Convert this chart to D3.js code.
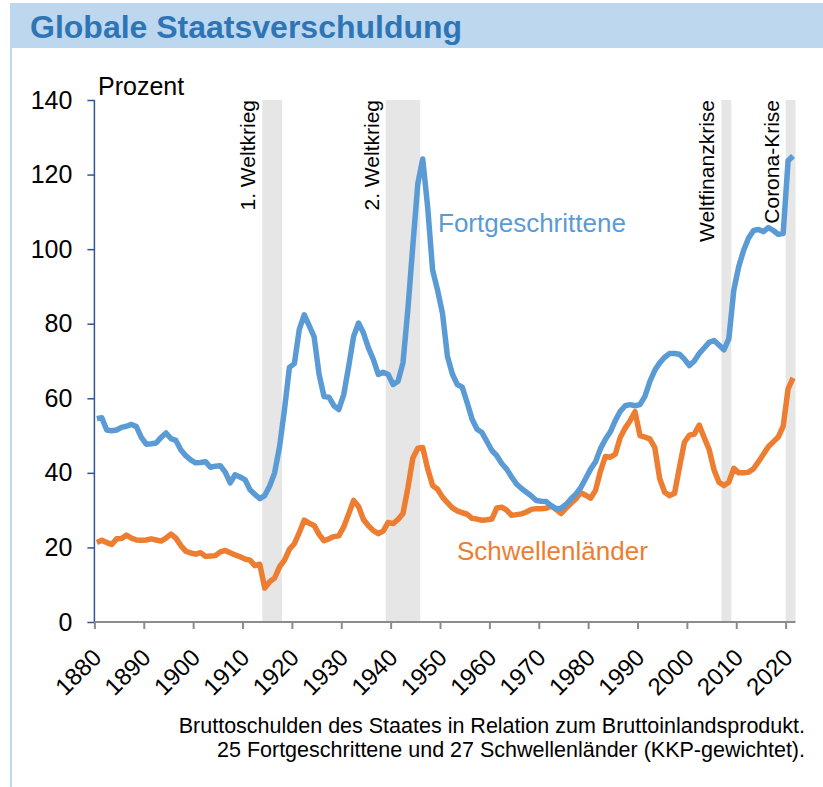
<!DOCTYPE html>
<html>
<head>
<meta charset="utf-8">
<script src="https://cdn.jsdelivr.net/npm/d3@7"></script>
<style>
  body { margin: 0; background: #fff; }
  svg { font-family: "Liberation Sans", Arial, sans-serif; }
</style>
</head>
<body>
<script>
// Jahre 1880 - 2021
var firstYear = 1880;

// Fortgeschrittene, Prozent des BIP
var advanced = [
  54.5, 54.8, 51.5, 51.3, 51.5, 52.2, 52.5, 53.0, 52.4, 49.5,
  47.7, 47.8, 48.0, 49.5, 50.7, 49.2, 48.7, 46.2, 44.6, 43.5,
  42.7, 42.8, 43.0, 41.5, 41.8, 41.9, 40.2, 37.3, 39.5, 38.9,
  38.2, 35.5, 34.2, 33.1, 33.9, 36.5, 40.0, 47.0, 57.0, 68.3,
  69.3, 78.5, 82.4, 79.5, 76.5, 66.5, 60.5, 60.3, 58.0, 57.0,
  61.0, 68.5, 76.6, 80.2, 77.5, 73.5, 70.4, 66.4, 67.0, 66.4,
  63.7, 64.6, 69.5, 84.0, 101.0, 117.5, 124.2, 111.3, 94.4, 89.0,
  82.8, 71.3, 66.5, 63.7, 63.0, 58.8, 54.4, 51.7, 50.8, 48.4,
  46.0, 44.6, 42.5, 41.0, 38.9, 37.0, 35.8, 34.8, 33.8, 32.6,
  32.4, 32.3, 31.2, 30.4, 30.5, 31.5, 33.0, 34.3, 36.0, 38.5,
  41.0, 43.0, 46.5, 49.0, 51.0, 54.0, 56.5, 58.0, 58.3, 58.0,
  58.3, 60.5, 64.5, 67.5, 69.5, 71.0, 72.0, 72.0, 71.8, 70.5,
  68.8, 70.0, 72.0, 73.5, 75.0, 75.5, 74.3, 73.0, 76.0, 89.0,
  95.3, 99.7, 103.0, 105.0, 105.3, 104.7, 105.8, 105.0, 104.0, 104.2,
  123.7, 125.0
];

// Schwellenländer, Prozent des BIP
var emerging = [
  21.3, 21.9, 21.3, 20.8, 22.3, 22.4, 23.3, 22.5, 22.0, 21.9,
  22.0, 22.3, 22.0, 21.7, 22.5, 23.6, 22.5, 20.5, 19.0, 18.5,
  18.2, 18.6, 17.6, 17.7, 17.8, 18.8, 19.2, 18.6, 18.0, 17.5,
  16.9, 16.6, 15.1, 15.5, 9.1, 10.8, 11.8, 14.8, 16.6, 19.5,
  21.0, 24.0, 27.3, 26.5, 25.9, 23.5, 21.8, 22.3, 22.9, 23.1,
  25.5, 29.0, 32.6, 31.0, 27.5, 25.8, 24.5, 23.7, 24.4, 26.7,
  26.4, 27.5, 29.1, 36.0, 44.0, 46.6, 46.8, 41.1, 36.6, 35.6,
  33.5, 32.0, 30.6, 29.8, 29.3, 28.9, 27.8, 27.6, 27.3, 27.4,
  27.6, 30.6, 30.8, 30.0, 28.6, 28.8, 29.0, 29.5, 30.2, 30.4,
  30.4, 30.5, 31.1, 30.2, 29.1, 30.5, 31.8, 33.0, 34.7, 34.0,
  33.2, 35.3, 40.5, 44.4, 44.2, 45.0, 49.5, 52.0, 54.0, 56.4,
  50.0, 49.6, 49.1, 46.8, 38.4, 34.8, 33.9, 34.5, 41.5, 48.2,
  50.1, 50.4, 52.8, 49.5, 46.3, 40.8, 37.5, 36.6, 37.5, 41.2,
  40.0, 40.0, 40.2, 41.1, 43.0, 45.0, 47.0, 48.3, 49.6, 52.5,
  62.5, 65.5
];

// Krisenphasen
var crisisNames = ["1. Weltkrieg", "2. Weltkrieg", "Weltfinanzkrise", "Corona-Krise"];
var crisisStart = [1914, 1939, 2007, 2020];
var crisisEnd = [1918, 1946, 2009, 2022];

var yTicks = [0, 20, 40, 60, 80, 100, 120, 140];
var xTicks = [1880, 1890, 1900, 1910, 1920, 1930, 1940, 1950, 1960, 1970, 1980, 1990, 2000, 2010, 2020];

var blue = "#5b9bd5", orange = "#ed7d31";

var svg = d3.select("body").append("svg")
  .attr("width", 823)
  .attr("height", 787);

// Kopfzeile
svg.append("rect")
  .attr("x", 10).attr("y", 3)
  .attr("width", 813).attr("height", 45)
  .attr("fill", "#bdd7ee");
svg.append("line")
  .attr("x1", 11).attr("x2", 11)
  .attr("y1", 48).attr("y2", 787)
  .attr("stroke", "#bdd7ee").attr("stroke-width", 2);
svg.append("text")
  .attr("x", 30).attr("y", 38)
  .attr("font-size", 32).attr("font-weight", "bold")
  .attr("fill", "#2e75b6")
  .text("Globale Staatsverschuldung");

var x = d3.scaleLinear().domain([1880, 2022]).range([94.4, 795.5]);
var y = d3.scaleLinear().domain([0, 140]).range([622, 100]);

// Schattierte Krisenbalken
svg.selectAll("rect.band")
  .data(crisisNames)
  .enter().append("rect")
    .attr("class", "band")
    .attr("x", function(d,i){ return x(crisisStart[i]); })
    .attr("width", function(d,i){ return x(crisisEnd[i]) - x(crisisStart[i]); })
    .attr("y", y(140))
    .attr("height", y(0) - y(140))
    .attr("fill", "#e6e6e6");

svg.selectAll("text.band")
  .data(crisisNames)
  .enter().append("text")
    .attr("class", "band")
    .attr("transform", function(d,i){ return "translate(" + (x(crisisStart[i]) - 7) + "," + y(140) + ") rotate(-90)"; })
    .attr("text-anchor", "end")
    .attr("font-size", 21)
    .attr("fill", "#000")
    .text(function(d){ return d; });

// Achsen
var yAxis = d3.axisLeft(y).tickValues(yTicks).tickSize(7).tickPadding(15);
var gy = svg.append("g")
  .attr("transform", "translate(" + x(1880) + ",0)")
  .call(yAxis);
gy.select(".domain").attr("stroke", "#2f5597").attr("stroke-width", 1.5).attr("d", "M0," + y(140) + "V" + y(0));
gy.selectAll(".tick line").attr("stroke", "#2f5597").attr("stroke-width", 1.5);
gy.selectAll(".tick text").attr("font-size", 25).attr("fill", "#000").attr("font-family", null);

var xAxis = d3.axisBottom(x).tickValues(xTicks).tickSize(7).tickFormat(d3.format("d"));
var gx = svg.append("g")
  .attr("transform", "translate(0," + y(0) + ")")
  .call(xAxis);
gx.select(".domain").attr("stroke", "#8c8c8c").attr("stroke-width", 2).attr("d", "M" + x(1880) + ",0H" + x(2022));
gx.selectAll(".tick line").attr("stroke", "#8c8c8c").attr("stroke-width", 2);
gx.selectAll(".tick text")
  .attr("font-size", 24).attr("fill", "#000").attr("font-family", null)
  .attr("text-anchor", "end")
  .attr("y", 0).attr("dy", 0)
  .attr("transform", "translate(8,37) rotate(-45)");

svg.append("text")
  .attr("x", 98).attr("y", 95)
  .attr("font-size", 25)
  .text("Prozent");

// Linien
var line = d3.line()
  .x(function(d,i){ return x(firstYear + i + 0.5); })
  .y(function(d){ return y(d); });

svg.append("path")
  .datum(emerging)
  .attr("d", line)
  .attr("fill", "none")
  .attr("stroke", orange)
  .attr("stroke-width", 5.5)
  .attr("stroke-linejoin", "round");

svg.append("path")
  .datum(advanced)
  .attr("d", line)
  .attr("fill", "none")
  .attr("stroke", blue)
  .attr("stroke-width", 5.5)
  .attr("stroke-linejoin", "round");

svg.append("text")
  .attr("x", 438).attr("y", 232)
  .attr("font-size", 26).attr("fill", blue)
  .text("Fortgeschrittene");

svg.append("text")
  .attr("x", 457).attr("y", 560)
  .attr("font-size", 26).attr("fill", orange)
  .text("Schwellenländer");

// Fußnote
svg.append("text")
  .attr("text-anchor", "end")
  .attr("font-size", 21.5)
  .selectAll("tspan")
  .data(["Bruttoschulden des Staates in Relation zum Bruttoinlandsprodukt.",
         "25 Fortgeschrittene und 27 Schwellenländer (KKP-gewichtet)."])
  .enter().append("tspan")
    .attr("x", 805)
    .attr("y", function(d,i){ return 733 + i*24; })
    .text(function(d){ return d; });
</script>
</body>
</html>
